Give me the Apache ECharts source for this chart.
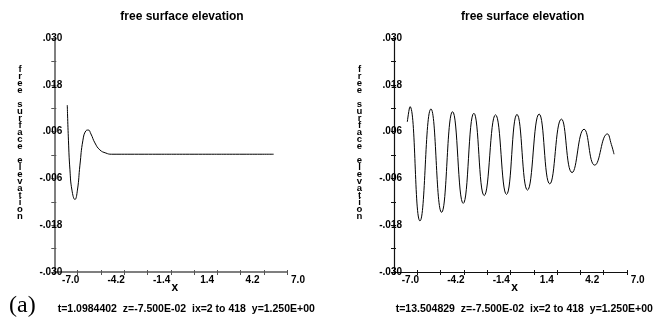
<!DOCTYPE html>
<html>
<head>
<meta charset="utf-8">
<script src="https://cdn.jsdelivr.net/npm/echarts@6/dist/echarts.min.js"></script>
<style>html,body{margin:0;padding:0;background:#fff;}#c{width:667px;height:320px;}</style>
</head>
<body>
<div id="c"></div>
<script>
// ---- data ----
const chartTitle = 'free surface elevation';
const yName = 'free surface elevation';
const xName = 'x';
const xTickLabels = ['-7.0', '-4.2', '-1.4', '1.4', '4.2', '7.0'];
const yTickValues = [0.030, 0.018, 0.006, -0.006, -0.018, -0.030];
const yTickLabels = ['.030', '.018', '.006', '-.006', '-.018', '-.030'];
const captionLeft = 't=1.0984402  z=-7.500E-02  ix=2 to 418  y=1.250E+00';
const captionRight = 't=13.504829  z=-7.500E-02  ix=2 to 418  y=1.250E+00';
const panelTag = '(a)';

const leftX = [-7.62, -7.55, -7.46, -7.34, -7.16, -7.01, -6.86, -6.68, -6.50, -6.36, -6.20, -5.96, -5.66, -5.30, -4.96, -3.00, 0.00, 3.00, 4.78];
const leftY = [0.0128, 0.0038, -0.0038, -0.0090, -0.0114, -0.0090, -0.0026, 0.0038, 0.0062, 0.0064, 0.0054, 0.0031, 0.0013, 0.0005, 0.0002, 0.0002, 0.0002, 0.0002, 0.0002];

const rightX = [-7.60, -7.44, -6.84, -6.18, -5.54, -4.88, -4.24, -3.60, -2.98, -2.30, -1.64, -1.01, -0.38, 0.32, 0.96, 1.66, 2.30, 3.02, 3.66, 4.42, 4.66, 4.82];
const rightY = [0.0085, 0.0124, -0.0169, 0.0118, -0.0147, 0.0111, -0.0124, 0.0107, -0.0104, 0.0103, -0.0101, 0.0104, -0.0090, 0.0105, -0.0074, 0.0092, -0.0045, 0.0066, -0.0026, 0.0054, 0.0027, 0.0002];

// ---- build chart ----
const FONT = 'Liberation Sans, Arial, Helvetica, sans-serif';
const pair = (xs, ys) => xs.map((x, i) => [x, ys[i]]);
const yLabel = v => {
  for (let i = 0; i < yTickValues.length; i++) if (Math.abs(v - yTickValues[i]) < 1e-9) return yTickLabels[i];
  return '';
};
const stackedName = yName.split('').map(c => c === ' ' ? '' : c).join('\n');

const panels = [
  { left: 54.3, labelLeft: 70.7, nameX: 20, axisColor: '#555', axisWidth: 1.5, data: pair(leftX, leftY) },
  { left: 394, labelLeft: 410.4, nameX: 359.5, axisColor: '#111', axisWidth: 1.2, data: pair(rightX, rightY) }
];
const TOP = 38, H = 234, W = 233, LW = 227.3;

const grid = [], xAxis = [], yAxis = [], series = [], title = [], graphic = [];
panels.forEach((p, k) => {
  const g = grid.length;
  grid.push({ left: p.left, top: TOP, width: W, height: H, containLabel: false });
  grid.push({ left: p.labelLeft, top: TOP, width: LW, height: H, containLabel: false });
  const line = { show: true, onZero: false, lineStyle: { color: p.axisColor, width: p.axisWidth } };
  const xi = xAxis.length;
  xAxis.push({
    type: 'value', gridIndex: g, min: -8.4, max: 5.6, interval: 1.4, position: 'bottom',
    axisLine: line, axisTick: { show: true, length: 3, lineStyle: { color: p.axisColor, width: 1 } },
    axisLabel: { show: false }, splitLine: { show: false },
    name: xName, nameLocation: 'middle', nameGap: 10,
    nameTextStyle: { fontFamily: FONT, fontWeight: 'bold', fontSize: 12, color: '#000', padding: [0, 0, 0, 8] }
  });
  xAxis.push({
    type: 'value', gridIndex: g, min: -8.4, max: 5.6, interval: 1.4, position: 'bottom',
    axisLine: { show: false, onZero: false }, axisTick: { show: true, inside: true, length: 2, lineStyle: { color: p.axisColor, width: 1 } },
    axisLabel: { show: false }, splitLine: { show: false }
  });
  xAxis.push({
    type: 'category', gridIndex: g + 1, data: xTickLabels, boundaryGap: false, position: 'bottom',
    axisLine: { show: false, onZero: false }, axisTick: { show: false }, splitLine: { show: false },
    axisLabel: { margin: 3, fontFamily: FONT, fontWeight: 'bold', fontSize: 10, color: '#000', interval: 0 }
  });
  const yi = yAxis.length;
  yAxis.push({
    type: 'value', gridIndex: g, min: -0.03, max: 0.03, interval: 0.006, position: 'left',
    axisLine: line, axisTick: { show: true, length: 3, lineStyle: { color: p.axisColor, width: 1 } },
    splitLine: { show: false },
    axisLabel: { formatter: yLabel, margin: -8, fontFamily: FONT, fontWeight: 'bold', fontSize: 10, color: '#000', padding: [5, 0, 0, 0] }
  });
  yAxis.push({
    type: 'value', gridIndex: g, min: -0.03, max: 0.03, interval: 0.006, position: 'left',
    axisLine: { show: false, onZero: false }, axisTick: { show: true, inside: true, length: 2, lineStyle: { color: p.axisColor, width: 1 } },
    axisLabel: { show: false }, splitLine: { show: false }
  });
  yAxis.push({ type: 'value', gridIndex: g + 1, show: false, min: 0, max: 1 });
  series.push({
    type: 'line', xAxisIndex: xi, yAxisIndex: yi, data: p.data, smooth: 0.5,
    showSymbol: false, lineStyle: { color: '#000', width: 1 }, silent: true, animation: false
  });
  graphic.push({
    type: 'text', x: p.nameX, y: 66, silent: true,
    style: { text: stackedName, fill: '#000', font: 'bold 9.5px ' + FONT, lineHeight: 7, textAlign: 'center', textVerticalAlign: 'top' }
  });
});

title.push({ text: chartTitle, left: 177, top: 6, textAlign: 'center', textStyle: { fontFamily: FONT, fontWeight: 'bold', fontSize: 12, color: '#000' } });
title.push({ text: chartTitle, left: 517.7, top: 6, textAlign: 'center', textStyle: { fontFamily: FONT, fontWeight: 'bold', fontSize: 12, color: '#000' } });
title.push({ text: captionLeft, left: 52.7, top: 299, textStyle: { fontFamily: FONT, fontWeight: 'bold', fontSize: 10.5, color: '#000' } });
title.push({ text: captionRight, left: 390.7, top: 299, textStyle: { fontFamily: FONT, fontWeight: 'bold', fontSize: 10.5, color: '#000' } });
title.push({ text: panelTag, left: 4, top: 289, textStyle: { fontFamily: 'Liberation Serif, Times New Roman, serif', fontWeight: 'normal', fontSize: 24, color: '#000' } });

const chart = echarts.init(document.getElementById('c'), null, { renderer: 'canvas' });
chart.setOption({
  animation: false, backgroundColor: '#fff',
  title, grid, xAxis, yAxis, series, graphic
});
</script>
</body>
</html>
